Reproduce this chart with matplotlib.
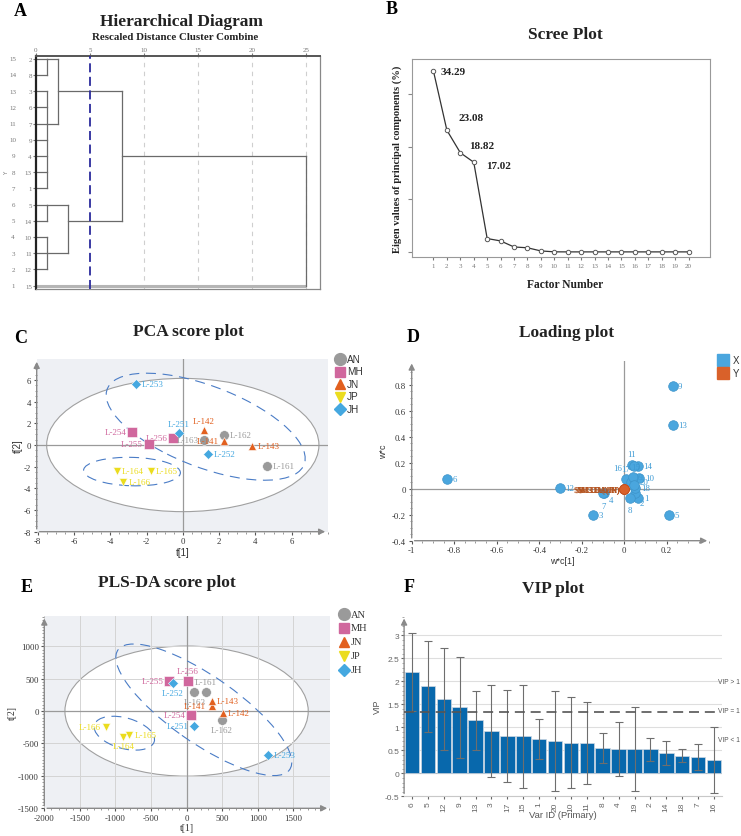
import numpy as np
import matplotlib
matplotlib.use('Agg')
import matplotlib.pyplot as plt
from matplotlib.patches import Ellipse
from matplotlib.lines import Line2D
from matplotlib.ticker import MultipleLocator
from matplotlib.transforms import blended_transform_factory

plt.rcParams['axes.unicode_minus'] = False

W, H = 741, 837
SERIF = ['Liberation Serif', 'DejaVu Serif']
SANS = ['Liberation Sans', 'DejaVu Sans']

# ---- A: dendrogram (leaves top to bottom) ----
leaf_order = ['2', '8', '3', '6', '7', '9', '4', '13', '1', '5', '14', '10', '11', '12', '15']
# (cluster, children, rescaled distance, leaf row carrying the link to the parent)
merges = [
    ('c1', ['2', '8'], 1.0, '2'),
    ('c2', ['3', '6', '7', '9', '4', '13', '1'], 1.0, '7'),
    ('c3', ['c1', 'c2'], 2.0, '3'),
    ('c4', ['5', '14'], 1.0, '5'),
    ('c5', ['10', '11', '12'], 1.0, '11'),
    ('c6', ['c4', 'c5'], 3.0, '14'),
    ('c7', ['c3', 'c6'], 8.0, '4'),
    ('c8', ['c7', '15'], 25.0, '4'),
]
cut_distance = 5

# ---- B: scree ----
factor_no = list(range(1, 21))
eigen_pct = [34.29, 23.08, 18.82, 17.02, 2.55, 2.1, 0.95, 0.8, 0.2, 0.03,
             0.02, 0.02, 0.02, 0.02, 0.02, 0.02, 0.02, 0.02, 0.02, 0.02]
n_annot = 4

# ---- groups ----
groups = ['AN', 'MH', 'JN', 'JP', 'JH']
group_colors = {'AN': '#9a9a9a', 'MH': '#d0679d', 'JN': '#e2601f', 'JP': '#ebdc1e', 'JH': '#45a8e0'}
group_markers = {'AN': 'o', 'MH': 's', 'JN': '^', 'JP': 'v', 'JH': 'D'}

# ---- C: PCA scores ----
pca_names = ['L-161', 'L-162', 'L-163', 'L-254', 'L-255', 'L-256', 'L-142', 'L-141', 'L-143',
             'L-164', 'L-165', 'L-166', 'L-253', 'L-251', 'L-252']
pca_group = ['AN', 'AN', 'AN', 'MH', 'MH', 'MH', 'JN', 'JN', 'JN', 'JP', 'JP', 'JP', 'JH', 'JH', 'JH']
pca_t1 = [4.64, 2.27, 1.16, -2.78, -1.89, -0.55, 1.16, 2.26, 3.83, -3.65, -1.77, -3.31, -2.56, -0.2, 1.4]
pca_t2 = [-1.94, 0.96, 0.47, 1.17, 0.07, 0.65, 1.35, 0.38, -0.06, -2.39, -2.42, -3.45, 5.62, 1.09, -0.87]

# ---- D: loadings ----
x_vars = ['1', '2', '3', '4', '5', '6', '7', '8', '9', '10', '11', '12', '13', '14', '15',
          '16', '17', '18', '19', '20']
wc1 = [0.067, 0.052, -0.149, -0.097, 0.212, -0.833, -0.099, 0.027, 0.228, 0.071,
       0.036, -0.303, 0.228, 0.064, 0.048, 0.008, 0.031, 0.052, 0.042, 0.045]
wc2 = [-0.072, -0.036, -0.203, -0.033, -0.203, 0.075, -0.036, -0.072, 0.79, 0.08,
       0.183, 0.005, 0.49, 0.177, 0.178, 0.075, 0.054, 0.003, 0.088, 0.03]
y_vars = ['$M3.DA(AN)', '$M3.DA(MH)', '$M3.DA(JN)', '$M3.DA(JP)', '$M3.DA(JH)']
y_wc1 = [0.0, 0.0, 0.0, 0.0, 0.0]
y_wc2 = [0.0, 0.0, 0.0, 0.0, 0.0]

# ---- E: PLS-DA scores ----
pls_names = ['L-161', 'L-162', 'L-163', 'L-254', 'L-255', 'L-256', 'L-142', 'L-141', 'L-143',
             'L-164', 'L-165', 'L-166', 'L-253', 'L-251', 'L-252']
pls_group = pca_group
pls_t1 = [268, 497, 108, 66, -243, 20, 507, 352, 352, -890, -805, -1133, 1149, 108, -195]
pls_t2 = [299, -137, 290, -60, 469, 469, -29, 74, 161, -395, -364, -250, -673, -235, 434]

# ---- F: VIP ----
vip_ids = ['6', '5', '12', '9', '13', '3', '17', '15', '1', '20', '10', '11', '8', '4', '19',
           '2', '14', '18', '7', '16']
vip = [2.20, 1.89, 1.61, 1.44, 1.15, 0.92, 0.81, 0.81, 0.75, 0.71, 0.67, 0.66, 0.55, 0.53,
       0.53, 0.52, 0.44, 0.38, 0.35, 0.29]
vip_err = [0.85, 0.99, 1.11, 1.10, 0.65, 1.01, 1.00, 1.12, 0.44, 1.09, 0.99, 0.89, 0.32, 0.58,
           0.91, 0.25, 0.26, 0.14, 0.28, 0.71]
vip_line = 1.345

fig = plt.figure(figsize=(W / 100, H / 100), dpi=100)


def add_ax(l, t, r, b):
    return fig.add_axes([l / W, 1 - b / H, (r - l) / W, (b - t) / H])


def ftext(x, y, s, **kw):
    fig.text(x / W, 1 - y / H, s, **kw)


def fmark(x, y, **kw):
    fig.add_artist(Line2D([x / W], [1 - y / H], transform=fig.transFigure, ls='none', **kw))


def arrow_axes(ax, right=True, color='#8a8a8a'):
    for s in ax.spines.values():
        s.set_visible(False)
    ax.annotate('', xy=(0, 1.0), xytext=(0, 0), xycoords='axes fraction',
                arrowprops=dict(arrowstyle='-|>', color=color, lw=1.0, mutation_scale=9))
    if right:
        ax.annotate('', xy=(1.0, 0), xytext=(0, 0), xycoords='axes fraction',
                    arrowprops=dict(arrowstyle='-|>', color=color, lw=1.0, mutation_scale=9))


def label_points(ax, xs, ys, names, colors, place, size=6.5):
    offs = {'r': (4, 0, 'left', 'center'), 'l': (-4, 0, 'right', 'center'),
            'u': (0, 4, 'center', 'bottom'), 'd': (0, -4, 'center', 'top')}
    for x, y, n, c in zip(xs, ys, names, colors):
        dx, dy, ha, va = offs[place.get(n, 'r')]
        ax.annotate(n, (x, y), xytext=(dx, dy), textcoords='offset points', ha=ha, va=va,
                    fontsize=size, color=c, family=SERIF, zorder=6)


# ================= A =================
axA = add_ax(36, 57, 320, 290)
axA.set_xlim(0, 26.3)
axA.set_ylim(0.79, 15.17)
rows = {leaf: 15 - i for i, leaf in enumerate(leaf_order)}
height = {leaf: 0.0 for leaf in leaf_order}
conn = dict(rows)
for g in [10, 15, 20, 25]:
    axA.axvline(g, color='#cfcfcf', lw=0.8, ls=(0, (4, 4)), zorder=0)
for name, kids, h, row_leaf in merges:
    ys = []
    for k in kids:
        y = conn[k]
        if k == leaf_order[-1]:
            axA.plot([height[k], h], [y, y], color='#b5b5b5', lw=2.2, solid_capstyle='butt')
        else:
            axA.plot([height[k], h], [y, y], color='#6a6a6a', lw=0.9)
        ys.append(y)
    axA.plot([h, h], [min(ys), max(ys)], color='#6a6a6a', lw=0.9)
    height[name] = h
    conn[name] = rows[row_leaf]
axA.axvline(cut_distance, color='#2b2b9c', lw=1.3, ls=(0, (5, 2.5)), zorder=3)
axA.xaxis.tick_top()
axA.set_xticks([0, 5, 10, 15, 20, 25])
axA.tick_params(axis='x', labelsize=5, colors='#777', length=2, pad=1)
axA.set_yticks(list(rows.values()))
axA.set_yticklabels(list(rows.keys()), family=SERIF)
axA.tick_params(axis='y', labelsize=5, colors='#777', length=2, pad=1)
for lab in axA.get_xticklabels():
    lab.set_family(SERIF)
for s in ['right', 'bottom']:
    axA.spines[s].set_color('#888')
    axA.spines[s].set_linewidth(0.9)
axA.spines['top'].set_color('#555')
axA.spines['top'].set_linewidth(1.4)
axA.spines['left'].set_color('#222')
axA.spines['left'].set_linewidth(1.6)
tr = blended_transform_factory(fig.transFigure, axA.transData)
for leaf, r in rows.items():
    axA.text(13 / W, r, str(r), transform=tr, fontsize=5, color='#777', family=SERIF,
             ha='center', va='center')
ftext(7, 173, 'Y', fontsize=4, color='#777', rotation=90, ha='center', va='center')
ftext(20, 11, 'A', fontsize=13, fontweight='bold', family=SERIF, ha='center', va='center')
ftext(182, 22, 'Hierarchical Diagram', fontsize=12.5, fontweight='bold', family=SERIF,
      ha='center', va='center', color='#222')
ftext(175, 37, 'Rescaled Distance Cluster Combine', fontsize=7.8, fontweight='bold',
      family=SERIF, ha='center', va='center', color='#222')

# ================= B =================
axB = add_ax(412, 60, 710, 258)
axB.plot(factor_no, eigen_pct, '-o', color='#333', lw=0.9, ms=3.2, mfc='white',
         mec='#555', mew=0.7)
axB.set_xlim(-0.6, 21.6)
axB.set_ylim(-0.95, 36.6)
axB.set_xticks(factor_no)
axB.set_yticks([0, 10, 20, 30])
axB.set_yticklabels([])
axB.tick_params(axis='x', labelsize=5, colors='#777', length=2, pad=2)
axB.tick_params(axis='y', length=3, colors='#888')
for lab in axB.get_xticklabels():
    lab.set_family(SERIF)
for s in axB.spines.values():
    s.set_color('#999')
    s.set_linewidth(0.8)
annot_off = [(5, 0), (8, 9), (6, 5), (9, -2)]
for i in range(n_annot):
    axB.annotate(f'{eigen_pct[i]:.2f}', (factor_no[i], eigen_pct[i]), xytext=annot_off[i],
                 textcoords='offset points', ha='left', va='center', fontsize=8,
                 fontweight='bold', family=SERIF, color='#222')
axB.set_ylabel('Eigen values of principal components (%)', fontsize=7.6, fontweight='bold',
               family=SERIF, labelpad=1, color='#222')
ftext(565, 285, 'Factor Number', fontsize=8.3, fontweight='bold', family=SERIF,
      ha='center', va='center', color='#222')
ftext(392, 10, 'B', fontsize=13, fontweight='bold', family=SERIF, ha='center', va='center')
ftext(565, 35, 'Scree Plot', fontsize=12.5, fontweight='bold', family=SERIF,
      ha='center', va='center', color='#222')


def score_panel(ax, t1, t2, names, grp, place, hot, dashed, grid=False):
    ax.set_facecolor('#eef0f4')
    ax.add_patch(Ellipse((0, 0), 2 * hot[0], 2 * hot[1], fc='white', ec='#a0a0a0',
                         lw=0.8, zorder=0.2))
    if grid:
        ax.grid(True, color='#d4d4d4', lw=0.7)
        ax.set_axisbelow(True)
    ax.axhline(0, color='#9a9a9a', lw=0.9, zorder=1)
    ax.axvline(0, color='#9a9a9a', lw=0.9, zorder=1)
    for (cx, cy, w, h, ang) in dashed:
        ax.add_patch(Ellipse((cx, cy), w, h, angle=ang, fill=False, ec='#4a7cc6', lw=0.8,
                             ls=(0, (9, 6)), zorder=2))
    for g in groups:
        idx = [i for i, gg in enumerate(grp) if gg == g]
        ms = {'o': 7, 's': 6.5, '^': 6, 'v': 6, 'D': 5}[group_markers[g]]
        ax.plot([t1[i] for i in idx], [t2[i] for i in idx], ls='none',
                marker=group_markers[g], ms=ms, color=group_colors[g], mec='white',
                mew=0.4, zorder=4)
    label_points(ax, t1, t2, names, [group_colors[g] for g in grp], place)
    arrow_axes(ax)
    ax.tick_params(labelsize=6.3, colors='#555', length=2.5, pad=1.5)
    ax.tick_params(which='minor', length=1.3, colors='#888')
    for lab in ax.get_xticklabels() + ax.get_yticklabels():
        lab.set_family(SERIF)
        lab.set_color('#333')


def legend_block(x, y0, step, family, size=7.2):
    for i, g in enumerate(groups):
        ms = {'o': 8.5, 's': 7.5, '^': 7, 'v': 7, 'D': 6}[group_markers[g]]
        fmark(x, y0 + i * step, marker=group_markers[g], ms=ms, color=group_colors[g])
        ftext(x + 7, y0 + i * step, g, fontsize=size, family=family, va='center', ha='left',
              color='#333')


# ================= C =================
axC = add_ax(36.7, 360, 328, 532.7)
axC.set_xlim(-8.05, 8.0)
axC.set_ylim(-8, 7.94)
axC.set_xticks([-8, -6, -4, -2, 0, 2, 4, 6])
axC.set_yticks([-8, -6, -4, -2, 0, 2, 4, 6])
axC.yaxis.set_minor_locator(MultipleLocator(0.5))
axC.xaxis.set_minor_locator(MultipleLocator(0.5))
pca_place = {'L-254': 'l', 'L-255': 'l', 'L-256': 'l', 'L-163': 'l', 'L-141': 'l',
             'L-142': 'u', 'L-251': 'u'}
score_panel(axC, pca_t1, pca_t2, pca_names, pca_group, pca_place, (7.5, 6.15),
            [(1.26, 1.69, 13.2, 6.6, -40), (-2.8, -2.45, 5.34, 2.62, -3)])
axC.set_xlabel('t[1]', fontsize=7, family=SANS, labelpad=1, color='#333')
axC.set_ylabel('t[2]', fontsize=7, family=SANS, labelpad=1, color='#333')
legend_block(340, 360, 12.5, SANS)
ftext(21, 339, 'C', fontsize=13, fontweight='bold', family=SERIF, ha='center', va='center')
ftext(188, 332, 'PCA score plot', fontsize=12.5, fontweight='bold', family=SERIF,
      ha='center', va='center', color='#222')

# ================= D =================
axD = add_ax(411.7, 361.7, 710, 541.7)
axD.set_xlim(-1, 0.404)
axD.set_ylim(-0.4, 0.987)
axD.axhline(0, color='#9a9a9a', lw=0.9, zorder=1)
axD.axvline(0, color='#9a9a9a', lw=0.9, zorder=1)
axD.scatter(wc1, wc2, s=48, color='#4aa6de', edgecolor='#3d93c9', lw=0.5, zorder=4)
for ys in y_vars:
    axD.annotate(ys, (y_wc1[0], y_wc2[0]), xytext=(-3, 0), textcoords='offset points',
                 ha='right', va='center', fontsize=5.8, color='#b4531f', family=SERIF,
                 zorder=5)
axD.scatter(y_wc1, y_wc2, s=48, color='#d9612a', edgecolor='#c05020', lw=0.5, zorder=6)
d_place = {'2': (3, -7, 'left', 'center'), '4': (4, -5, 'left', 'center'),
           '7': (0, -6, 'center', 'top'), '8': (0, -6, 'center', 'top'),
           '11': (0, 5, 'center', 'bottom'), '15': (-2, -1, 'left', 'center'),
           '16': (-6, 5, 'center', 'bottom'), '17': (-4, 6, 'center', 'bottom'),
           '19': (1, 0, 'left', 'center'), '20': (4, 2, 'left', 'center')}
for x, y, n in zip(wc1, wc2, x_vars):
    dx, dy, ha, va = d_place.get(n, (4, 0, 'left', 'center'))
    axD.annotate(n, (x, y), xytext=(dx, dy), textcoords='offset points', ha=ha, va=va,
                 fontsize=6.3, color='#3c9ad4', family=SERIF, zorder=7)
arrow_axes(axD)
axD.set_xticks([-1, -0.8, -0.6, -0.4, -0.2, 0, 0.2])
axD.set_xticklabels(['-1', '-0.8', '-0.6', '-0.4', '-0.2', '0', '0.2'])
axD.set_yticks([-0.4, -0.2, 0, 0.2, 0.4, 0.6, 0.8])
axD.set_yticklabels(['-0.4', '-0.2', '0', '0.2', '0.4', '0.6', '0.8'])
axD.xaxis.set_minor_locator(MultipleLocator(0.05))
axD.yaxis.set_minor_locator(MultipleLocator(0.05))
axD.tick_params(labelsize=6.3, colors='#555', length=2.5, pad=1.5)
axD.tick_params(which='minor', length=1.3, colors='#888')
for lab in axD.get_xticklabels() + axD.get_yticklabels():
    lab.set_family(SERIF)
    lab.set_color('#333')
axD.set_ylabel('w*c', fontsize=6.5, family=SANS, labelpad=3, color='#333')
ftext(562, 561, 'w*c[1]', fontsize=6.5, family=SANS, ha='center', va='center', color='#333')
fmark(723, 361, marker='s', ms=9, color='#4aa6de')
fmark(723, 374, marker='s', ms=9, color='#d9612a')
ftext(733, 361, 'X', fontsize=7, family=SANS, va='center', color='#333')
ftext(733, 374, 'Y', fontsize=7, family=SANS, va='center', color='#333')
ftext(413, 338, 'D', fontsize=13, fontweight='bold', family=SERIF, ha='center', va='center')
ftext(567, 333, 'Loading plot', fontsize=12.5, fontweight='bold', family=SERIF,
      ha='center', va='center', color='#222')

# ================= E =================
axE = add_ax(44.3, 616.7, 330, 809.3)
axE.set_xlim(-2000, 2016)
axE.set_ylim(-1500, 1472)
axE.set_xticks([-2000, -1500, -1000, -500, 0, 500, 1000, 1500])
axE.set_yticks([-1500, -1000, -500, 0, 500, 1000])
axE.xaxis.set_minor_locator(MultipleLocator(100))
axE.yaxis.set_minor_locator(MultipleLocator(50))
pls_place = {'L-255': 'l', 'L-256': 'u', 'L-161': 'u', 'L-252': 'd', 'L-163': 'd',
             'L-141': 'l', 'L-162': 'd', 'L-254': 'l', 'L-251': 'l', 'L-166': 'l',
             'L-164': 'd'}
score_panel(axE, pls_t1, pls_t2, pls_names, pls_group, pls_place, (1710, 1004),
            [(242, 20, 3040, 1000, -38), (-875, -341, 880, 470, -18)], grid=True)
axE.set_xlabel('t[1]', fontsize=7, family=SERIF, labelpad=1, color='#333')
axE.set_ylabel('t[2]', fontsize=7, family=SERIF, labelpad=1, color='#333')
legend_block(344, 615, 14, SERIF, size=7.5)
ftext(27, 587, 'E', fontsize=13, fontweight='bold', family=SERIF, ha='center', va='center')
ftext(167, 583, 'PLS-DA score plot', fontsize=12.5, fontweight='bold', family=SERIF,
      ha='center', va='center', color='#222')

# ================= F =================
axF = add_ax(404.1, 616.7, 721.9, 797.3)
pos = np.arange(len(vip_ids))
axF.set_xlim(-0.5, len(vip_ids) - 0.5)
axF.set_ylim(-0.5, 3.43)
for g in np.arange(-0.5, 3.01, 0.5):
    axF.axhline(g, color='#dedede', lw=0.8, zorder=0)
axF.axhline(0, color='#b8b8b8', lw=0.8, zorder=0)
axF.bar(pos, vip, width=0.92, color='#0868ac', edgecolor='#cfd8e2', lw=0.5, zorder=2)
axF.errorbar(pos, vip, yerr=vip_err, fmt='none', ecolor='#6e6e6e', elinewidth=0.8,
             capsize=2.6, capthick=0.8, zorder=3)
axF.plot([-0.5, 19.3], [vip_line, vip_line], color='#555', lw=1.2, ls=(0, (6, 3.5)),
         zorder=4)
axF.set_xticks(pos)
axF.set_xticklabels(vip_ids, rotation=90, family=SANS)
axF.set_yticks([-0.5, 0, 0.5, 1, 1.5, 2, 2.5, 3])
axF.set_yticklabels(['-0.5', '0', '0.5', '1', '1.5', '2', '2.5', '3'], family=SANS)
axF.yaxis.set_minor_locator(MultipleLocator(0.1))
axF.tick_params(labelsize=6, colors='#666', length=2, pad=1.5)
axF.tick_params(which='minor', length=1.2, colors='#999')
for s in axF.spines.values():
    s.set_visible(False)
axF.annotate('', xy=(0, 1.0), xytext=(0, 0), xycoords='axes fraction',
             arrowprops=dict(arrowstyle='-|>', color='#8a8a8a', lw=1.0, mutation_scale=9))
axF.plot([0, 1], [0, 0], transform=axF.transAxes, color='#c8c8c8', lw=0.8, clip_on=False)
ftext(718, 683, 'VIP > 1', fontsize=4.8, family=SANS, va='center', color='#555')
ftext(718, 712, 'VIP = 1', fontsize=4.8, family=SANS, va='center', color='#555')
ftext(718, 741, 'VIP < 1', fontsize=4.8, family=SANS, va='center', color='#555')
axF.set_ylabel('VIP', fontsize=6.5, family=SANS, labelpad=2, color='#555')
ftext(563, 816, 'Var ID (Primary)', fontsize=6.8, family=SANS, ha='center', va='center',
      color='#555')
ftext(409, 587, 'F', fontsize=13, fontweight='bold', family=SERIF, ha='center', va='center')
ftext(553, 589, 'VIP plot', fontsize=12.5, fontweight='bold', family=SERIF,
      ha='center', va='center', color='#222')

fig.savefig('out.png', dpi=100)
